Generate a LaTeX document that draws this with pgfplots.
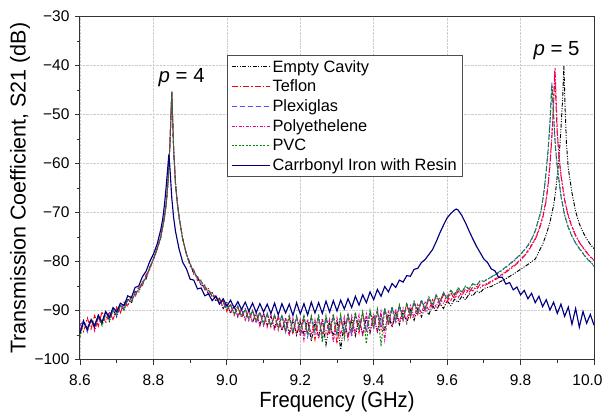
\documentclass[border=0pt]{standalone}
\usepackage{fontspec}
\setmainfont{Liberation Sans}
\usepackage{graphicx}
\usepackage{pgfplots}
\pgfplotsset{compat=1.18}
\definecolor{plexblue}{RGB}{80,80,255}
\definecolor{pvcgreen}{RGB}{0,140,0}
\definecolor{ironnavy}{RGB}{0,0,128}
\definecolor{gridgray}{RGB}{205,205,205}

\begin{document}
\begin{tikzpicture}
\useasboundingbox (-80pt,-53.5pt) rectangle (523pt,359.5pt);
\begin{axis}[
  name=ax, at={(0pt,0pt)}, anchor=south west,
  width=514pt, height=343pt, scale only axis,
  xmin=8.6, xmax=10.0, ymin=-100, ymax=-30,
  xtick={8.6,8.8,9.0,9.2,9.4,9.6,9.8,10.0},
  xticklabels={8.6,8.8,9.0,9.2,9.4,9.6,9.8,\hspace*{-13pt}10.0},
  ytick={-100,-90,-80,-70,-60,-50,-40,-30},
  yticklabels={−100,−90,−80,−70,−60,−50,−40,−30},
  minor x tick num=1, minor y tick num=1,
  xticklabel style={yshift=-7pt},
  tick label style={font=\fontsize{15.5}{18}\selectfont},
  yticklabel style={xshift=-2pt},
  tick align=outside, tick pos=left,
  major tick length=5pt, minor tick length=3pt,
  xmajorgrids, ymajorgrids,
  grid style={densely dotted, gridgray, line width=0.7pt},
  axis line style={line width=1pt, black!80},
  every tick/.style={black!80, line width=0.8pt},
  clip=true,
  legend style={at={(rel axis cs:0.286,0.887)}, anchor=north west,
    font=\fontsize{16.4}{19.6}\selectfont, draw=black!70, line width=0.8pt,
    fill=white, row sep=2.4pt, inner xsep=4pt, inner ysep=2.5pt},
  legend cell align=left,
  legend image code/.code={\draw[#1] (0pt,0pt) -- (38pt,0pt);},
]
% Empty Cavity
\addplot[color=black, draw=black, line width=0.95pt, dash pattern=on 4pt off 1.5pt on 1pt off 1.5pt on 1pt off 1.5pt] coordinates {
(8.60,-94.8) (8.61,-92.0) (8.62,-94.1) (8.63,-91.9) (8.64,-93.6) (8.65,-91.2) (8.66,-92.9) (8.67,-90.3)
(8.68,-92.2) (8.69,-89.8) (8.70,-91.3) (8.71,-88.9) (8.72,-89.9) (8.73,-87.6) (8.74,-88.5) (8.75,-86.1)
(8.76,-86.3) (8.77,-84.0) (8.78,-83.6) (8.79,-81.1) (8.80,-79.6) (8.81,-77.4) (8.82,-75.1) (8.83,-71.0)
(8.835,-68.1) (8.84,-63.5) (8.845,-56.2) (8.85,-45.6) (8.855,-57.0) (8.86,-64.1) (8.865,-68.0) (8.87,-71.1)
(8.88,-75.4) (8.89,-78.6) (8.90,-80.4) (8.91,-82.6) (8.92,-83.0) (8.93,-85.0) (8.94,-84.8) (8.95,-86.7)
(8.96,-86.2) (8.97,-88.1) (8.98,-87.5) (8.99,-89.6) (9.00,-88.4) (9.01,-90.6) (9.02,-89.0) (9.03,-91.3)
(9.04,-89.6) (9.05,-91.8) (9.06,-90.0) (9.07,-92.4) (9.08,-90.5) (9.09,-92.9) (9.10,-90.7) (9.11,-93.0)
(9.12,-91.2) (9.13,-93.5) (9.14,-91.3) (9.15,-94.1) (9.16,-91.9) (9.17,-94.6) (9.18,-92.0) (9.19,-95.0)
(9.20,-92.3) (9.21,-94.8) (9.22,-91.9) (9.23,-96.2) (9.24,-92.4) (9.25,-95.3) (9.26,-91.8) (9.27,-97.0)
(9.28,-92.6) (9.29,-95.1) (9.30,-92.0) (9.31,-98.0) (9.32,-92.3) (9.33,-95.4) (9.34,-91.9) (9.35,-95.2)
(9.36,-92.0) (9.37,-94.8) (9.38,-91.5) (9.39,-94.6) (9.40,-91.3) (9.41,-94.3) (9.42,-91.0) (9.43,-93.9)
(9.44,-90.9) (9.45,-93.4) (9.46,-90.6) (9.47,-92.9) (9.48,-90.1) (9.49,-92.6) (9.50,-89.9) (9.51,-92.0)
(9.52,-89.6) (9.53,-91.3) (9.54,-89.3) (9.55,-90.9) (9.56,-88.9) (9.57,-90.2) (9.58,-88.5) (9.59,-89.6)
(9.60,-88.0) (9.61,-89.0) (9.62,-87.7) (9.63,-88.3) (9.64,-87.1) (9.65,-87.8) (9.66,-86.6) (9.67,-87.0)
(9.68,-86.0) (9.69,-86.4) (9.70,-85.5) (9.72,-85.1) (9.74,-84.3) (9.76,-83.5) (9.78,-82.6) (9.80,-81.6)
(9.82,-80.6) (9.84,-79.5) (9.86,-76.5) (9.87,-74.5) (9.88,-72.0) (9.89,-68.5) (9.895,-66.0) (9.90,-62.5)
(9.905,-58.5) (9.91,-53.0) (9.915,-46.0) (9.918,-40.0) (9.921,-48.0) (9.925,-56.0) (9.93,-61.0) (9.94,-66.0)
(9.95,-69.8) (9.96,-72.3) (9.97,-74.0) (9.98,-75.4) (9.99,-76.5) (10.00,-77.4)
};
% Teflon
\addplot[color=red, draw=red, line width=0.95pt, dash pattern=on 6pt off 2pt on 1.5pt off 2pt] coordinates {
(8.60,-92.6) (8.61,-94.3) (8.62,-91.5) (8.63,-93.8) (8.64,-91.0) (8.65,-93.2) (8.66,-90.2) (8.67,-92.6)
(8.68,-90.4) (8.69,-91.8) (8.70,-89.3) (8.71,-90.5) (8.72,-88.3) (8.73,-89.2) (8.74,-86.9) (8.75,-87.3)
(8.76,-85.1) (8.77,-84.9) (8.78,-82.7) (8.79,-81.6) (8.80,-79.4) (8.81,-77.6) (8.82,-74.9) (8.83,-71.1)
(8.835,-67.9) (8.84,-63.6) (8.845,-55.9) (8.85,-45.4) (8.855,-57.1) (8.86,-63.9) (8.865,-68.1) (8.87,-70.9)
(8.88,-75.6) (8.89,-78.4) (8.90,-81.0) (8.91,-81.7) (8.92,-83.9) (8.93,-83.8) (8.94,-85.8) (8.95,-85.5)
(8.96,-87.3) (8.97,-86.9) (8.98,-88.7) (8.99,-88.0) (9.00,-90.2) (9.01,-88.6) (9.02,-91.0) (9.03,-89.2)
(9.04,-91.5) (9.05,-89.7) (9.06,-92.1) (9.07,-90.0) (9.08,-92.6) (9.09,-90.3) (9.10,-93.1) (9.11,-90.7)
(9.12,-93.4) (9.13,-91.0) (9.14,-94.0) (9.15,-91.1) (9.16,-94.5) (9.17,-91.3) (9.18,-94.9) (9.19,-91.2)
(9.20,-95.3) (9.21,-91.6) (9.22,-94.6) (9.23,-91.4) (9.24,-96.0) (9.25,-91.7) (9.26,-95.0) (9.27,-91.5)
(9.28,-94.9) (9.29,-91.2) (9.30,-96.8) (9.31,-91.6) (9.32,-94.7) (9.33,-91.0) (9.34,-95.3) (9.35,-90.9)
(9.36,-94.6) (9.37,-90.6) (9.38,-94.4) (9.39,-90.5) (9.40,-93.8) (9.41,-90.3) (9.42,-93.9) (9.43,-89.9)
(9.44,-93.1) (9.45,-89.7) (9.46,-92.6) (9.47,-89.2) (9.48,-92.1) (9.49,-88.8) (9.50,-91.4) (9.51,-88.5)
(9.52,-90.8) (9.53,-88.0) (9.54,-90.1) (9.55,-87.6) (9.56,-89.4) (9.57,-87.0) (9.58,-88.9) (9.59,-86.7)
(9.60,-88.3) (9.61,-86.4) (9.62,-87.6) (9.63,-86.0) (9.64,-87.0) (9.65,-85.6) (9.66,-86.3) (9.67,-85.2)
(9.68,-85.7) (9.69,-84.6) (9.70,-85.0) (9.72,-84.2) (9.74,-83.3) (9.76,-82.2) (9.78,-81.1) (9.80,-79.8)
(9.82,-78.0) (9.84,-75.5) (9.85,-73.7) (9.86,-71.2) (9.865,-69.5) (9.87,-67.5) (9.875,-64.5) (9.88,-60.5)
(9.885,-55.0) (9.89,-48.0) (9.893,-41.0) (9.897,-49.0) (9.90,-54.0) (9.905,-59.0) (9.91,-62.5) (9.92,-67.5)
(9.93,-70.8) (9.94,-73.0) (9.95,-74.8) (9.96,-76.1) (9.97,-77.2) (9.98,-78.2) (9.99,-79.1) (10.00,-79.8)
};
% Plexiglas
\addplot[color=plexblue, draw=plexblue, line width=0.95pt, dash pattern=on 5pt off 3pt] coordinates {
(8.60,-93.0) (8.61,-92.1) (8.62,-94.4) (8.63,-91.6) (8.64,-93.0) (8.65,-90.9) (8.66,-92.7) (8.67,-90.8)
(8.68,-91.6) (8.69,-89.9) (8.70,-91.0) (8.71,-88.8) (8.72,-89.6) (8.73,-87.9) (8.74,-88.1) (8.75,-86.3)
(8.76,-86.0) (8.77,-84.2) (8.78,-83.4) (8.79,-81.2) (8.80,-79.5) (8.81,-77.5) (8.82,-75.0) (8.83,-70.9)
(8.835,-68.0) (8.84,-63.4) (8.845,-56.1) (8.85,-45.7) (8.855,-56.9) (8.86,-64.0) (8.865,-67.9) (8.87,-71.0)
(8.88,-75.5) (8.89,-78.5) (8.90,-80.9) (8.91,-81.8) (8.92,-83.6) (8.93,-84.0) (8.94,-85.6) (8.95,-85.7)
(8.96,-87.1) (8.97,-87.0) (8.98,-88.4) (8.99,-88.2) (9.00,-89.9) (9.01,-88.7) (9.02,-90.8) (9.03,-89.0)
(9.04,-91.3) (9.05,-89.5) (9.06,-91.9) (9.07,-89.9) (9.08,-92.3) (9.09,-90.2) (9.10,-92.9) (9.11,-90.5)
(9.12,-93.3) (9.13,-90.9) (9.14,-93.6) (9.15,-90.8) (9.16,-94.4) (9.17,-91.0) (9.18,-94.2) (9.19,-91.3)
(9.20,-94.7) (9.21,-91.1) (9.22,-95.4) (9.23,-91.5) (9.24,-94.6) (9.25,-91.2) (9.26,-95.6) (9.27,-91.4)
(9.28,-94.4) (9.29,-91.0) (9.30,-95.0) (9.31,-91.3) (9.32,-94.5) (9.33,-90.8) (9.34,-94.8) (9.35,-90.7)
(9.36,-94.0) (9.37,-90.5) (9.38,-93.9) (9.39,-90.1) (9.40,-93.5) (9.41,-89.8) (9.42,-93.2) (9.43,-89.6)
(9.44,-92.7) (9.45,-89.4) (9.46,-92.3) (9.47,-89.0) (9.48,-91.7) (9.49,-88.6) (9.50,-91.1) (9.51,-88.2)
(9.52,-90.4) (9.53,-87.9) (9.54,-89.9) (9.55,-87.3) (9.56,-89.1) (9.57,-86.8) (9.58,-88.5) (9.59,-86.3)
(9.60,-87.7) (9.61,-85.9) (9.62,-87.0) (9.63,-85.4) (9.64,-86.4) (9.65,-85.0) (9.66,-85.7) (9.67,-84.5)
(9.68,-85.0) (9.69,-83.9) (9.70,-84.1) (9.74,-82.2) (9.76,-81.1) (9.78,-79.9) (9.80,-78.5) (9.82,-76.7)
(9.83,-75.4) (9.84,-73.7) (9.85,-71.1) (9.855,-69.9) (9.86,-67.7) (9.865,-64.9) (9.87,-61.3) (9.875,-57.2)
(9.88,-51.5) (9.885,-43.5) (9.89,-50.5) (9.895,-56.8) (9.90,-60.8) (9.91,-66.7) (9.92,-70.6) (9.93,-73.1)
(9.94,-74.9) (9.95,-76.3) (9.96,-77.4) (9.97,-78.4) (9.98,-79.4) (9.99,-80.1) (10.00,-81.0)
};
% Polyethelene
\addplot[color=magenta, draw=magenta, line width=0.95pt, dash pattern=on 3pt off 1.5pt on 1pt off 1.5pt] coordinates {
(8.60,-94.0) (8.61,-92.4) (8.62,-93.6) (8.63,-91.8) (8.64,-94.2) (8.65,-91.5) (8.66,-92.0) (8.67,-91.7)
(8.68,-90.3) (8.69,-91.9) (8.70,-89.5) (8.71,-90.2) (8.72,-88.6) (8.73,-88.9) (8.74,-87.3) (8.75,-87.0)
(8.76,-85.4) (8.77,-84.7) (8.78,-82.9) (8.79,-81.5) (8.80,-79.5) (8.81,-77.5) (8.82,-75.0) (8.83,-71.0)
(8.835,-68.0) (8.84,-63.5) (8.845,-56.0) (8.85,-45.3) (8.855,-57.0) (8.86,-64.0) (8.865,-68.0) (8.87,-71.0)
(8.88,-75.5) (8.89,-78.5) (8.90,-80.3) (8.91,-82.4) (8.92,-83.1) (8.93,-84.8) (8.94,-85.0) (8.95,-86.5)
(8.96,-86.4) (8.97,-88.0) (8.98,-87.7) (8.99,-89.4) (9.00,-88.6) (9.01,-90.5) (9.02,-89.2) (9.03,-91.1)
(9.04,-89.8) (9.05,-92.0) (9.06,-89.9) (9.07,-92.5) (9.08,-90.4) (9.09,-93.2) (9.10,-90.5) (9.11,-93.4)
(9.12,-90.8) (9.13,-94.2) (9.14,-91.0) (9.15,-94.0) (9.16,-91.4) (9.17,-95.2) (9.18,-91.6) (9.19,-94.6)
(9.20,-91.8) (9.21,-96.1) (9.22,-91.7) (9.23,-95.0) (9.24,-91.9) (9.25,-95.8) (9.26,-91.6) (9.27,-94.8)
(9.28,-91.8) (9.29,-96.4) (9.30,-91.5) (9.31,-95.1) (9.32,-91.3) (9.33,-95.9) (9.34,-91.1) (9.35,-94.7)
(9.36,-90.9) (9.37,-95.3) (9.38,-90.7) (9.39,-94.2) (9.40,-90.6) (9.41,-94.5) (9.42,-90.2) (9.43,-96.0)
(9.44,-90.0) (9.45,-93.1) (9.46,-89.7) (9.47,-92.4) (9.48,-89.5) (9.49,-92.0) (9.50,-89.0) (9.51,-91.3)
(9.52,-88.8) (9.53,-90.6) (9.54,-88.3) (9.55,-90.0) (9.56,-87.8) (9.57,-89.3) (9.58,-87.4) (9.59,-88.6)
(9.60,-86.9) (9.61,-88.0) (9.62,-86.5) (9.63,-87.4) (9.64,-86.1) (9.65,-86.7) (9.66,-85.6) (9.67,-86.0)
(9.68,-85.1) (9.69,-85.4) (9.70,-84.8) (9.72,-84.0) (9.74,-83.1) (9.76,-82.0) (9.78,-80.9) (9.80,-79.6)
(9.82,-77.8) (9.84,-75.3) (9.85,-73.4) (9.86,-70.9) (9.865,-69.1) (9.87,-67.1) (9.875,-64.1) (9.88,-60.0)
(9.885,-54.4) (9.89,-47.3) (9.894,-40.5) (9.898,-48.8) (9.90,-53.5) (9.905,-58.6) (9.91,-62.2) (9.92,-67.3)
(9.93,-70.6) (9.94,-72.8) (9.95,-74.6) (9.96,-76.0) (9.97,-77.1) (9.98,-78.1) (9.99,-79.0) (10.00,-79.7)
};
% PVC
\addplot[color=pvcgreen, draw=pvcgreen, line width=0.95pt, dash pattern=on 2pt off 1.5pt] coordinates {
(8.60,-95.5) (8.61,-92.3) (8.62,-93.5) (8.63,-92.0) (8.64,-92.9) (8.65,-91.0) (8.66,-93.1) (8.67,-90.6)
(8.68,-91.9) (8.69,-90.1) (8.70,-90.8) (8.71,-89.1) (8.72,-89.8) (8.73,-87.7) (8.74,-88.3) (8.75,-86.4)
(8.76,-85.9) (8.77,-84.3) (8.78,-83.3) (8.79,-81.3) (8.80,-79.5) (8.81,-77.4) (8.82,-75.0) (8.83,-71.0)
(8.835,-68.0) (8.84,-63.5) (8.845,-56.0) (8.85,-45.5) (8.855,-57.0) (8.86,-64.0) (8.865,-68.0) (8.87,-71.0)
(8.88,-75.5) (8.89,-78.5) (8.90,-80.7) (8.91,-81.9) (8.92,-83.5) (8.93,-84.1) (8.94,-85.4) (8.95,-85.9)
(8.96,-87.0) (8.97,-87.2) (8.98,-88.3) (8.99,-88.4) (9.00,-89.7) (9.01,-88.9) (9.02,-90.6) (9.03,-89.4)
(9.04,-91.1) (9.05,-89.8) (9.06,-91.6) (9.07,-90.1) (9.08,-92.0) (9.09,-90.6) (9.10,-92.5) (9.11,-90.8)
(9.12,-93.0) (9.13,-91.0) (9.14,-93.4) (9.15,-91.2) (9.16,-93.9) (9.17,-91.0) (9.18,-94.5) (9.19,-91.2)
(9.20,-94.0) (9.21,-90.9) (9.22,-95.0) (9.23,-91.1) (9.24,-94.2) (9.25,-90.8) (9.26,-96.5) (9.27,-91.0)
(9.28,-94.1) (9.29,-90.7) (9.30,-94.9) (9.31,-90.8) (9.32,-95.7) (9.33,-90.6) (9.34,-94.0) (9.35,-90.4)
(9.36,-93.7) (9.37,-90.2) (9.38,-96.8) (9.39,-89.9) (9.40,-93.2) (9.41,-89.7) (9.42,-97.3) (9.43,-89.5)
(9.44,-92.4) (9.45,-89.2) (9.46,-92.0) (9.47,-88.8) (9.48,-91.5) (9.49,-88.5) (9.50,-90.9) (9.51,-88.1)
(9.52,-90.2) (9.53,-87.8) (9.54,-89.6) (9.55,-87.2) (9.56,-88.9) (9.57,-86.8) (9.58,-88.2) (9.59,-86.3)
(9.60,-87.6) (9.61,-85.8) (9.62,-86.9) (9.63,-85.4) (9.64,-86.2) (9.65,-85.0) (9.66,-85.6) (9.67,-84.5)
(9.68,-84.9) (9.69,-83.9) (9.70,-84.0) (9.72,-83.2) (9.74,-82.3) (9.76,-81.2) (9.78,-80.0) (9.80,-78.6)
(9.82,-76.8) (9.83,-75.5) (9.84,-73.8) (9.85,-71.2) (9.855,-70.0) (9.86,-67.8) (9.865,-65.0) (9.87,-61.5)
(9.875,-57.5) (9.88,-52.0) (9.886,-44.0) (9.89,-50.0) (9.895,-56.5) (9.90,-60.5) (9.91,-66.5) (9.92,-70.5)
(9.93,-73.0) (9.94,-74.8) (9.95,-76.2) (9.96,-77.3) (9.97,-78.3) (9.98,-79.3) (9.99,-80.0) (10.00,-80.9)
};
% Carrbonyl Iron with Resin
\addplot[color=ironnavy, draw=ironnavy, line width=1.15pt] coordinates {
(8.60,-94.5) (8.61,-92.3) (8.62,-93.9) (8.63,-91.9) (8.64,-93.1) (8.65,-91.0) (8.66,-92.4) (8.67,-90.2)
(8.68,-91.4) (8.69,-89.4) (8.70,-90.3) (8.71,-88.5) (8.72,-89.0) (8.73,-87.0) (8.74,-87.4) (8.75,-85.3)
(8.76,-85.0) (8.77,-83.1) (8.78,-82.0) (8.79,-80.0) (8.80,-78.5) (8.81,-76.5) (8.82,-73.5) (8.825,-71.5)
(8.83,-68.5) (8.835,-64.5) (8.84,-60.0) (8.842,-58.2) (8.845,-61.0) (8.85,-67.0) (8.855,-71.0) (8.86,-73.8)
(8.87,-77.5) (8.88,-80.2) (8.89,-81.5) (8.90,-83.6) (8.91,-83.8) (8.92,-85.6) (8.93,-85.4) (8.94,-87.0)
(8.95,-86.6) (8.96,-88.0) (8.97,-87.1) (8.98,-88.7) (8.99,-87.6) (9.00,-89.1) (9.01,-87.9) (9.02,-89.5)
(9.03,-88.2) (9.04,-89.8) (9.05,-88.3) (9.06,-90.1) (9.07,-88.5) (9.08,-90.4) (9.09,-88.6) (9.10,-90.3)
(9.11,-88.7) (9.12,-90.6) (9.13,-88.5) (9.14,-90.9) (9.15,-88.6) (9.16,-90.5) (9.17,-88.7) (9.18,-91.0)
(9.19,-88.4) (9.20,-90.7) (9.21,-88.6) (9.22,-90.9) (9.23,-88.3) (9.24,-90.5) (9.25,-88.4) (9.26,-90.6)
(9.27,-88.1) (9.28,-90.3) (9.29,-88.0) (9.30,-90.1) (9.31,-87.9) (9.32,-89.7) (9.33,-87.6) (9.34,-89.4)
(9.35,-87.1) (9.36,-88.9) (9.37,-86.8) (9.38,-88.4) (9.39,-86.2) (9.40,-87.8) (9.41,-85.7) (9.42,-87.1)
(9.43,-85.1) (9.44,-86.2) (9.45,-84.5) (9.46,-85.3) (9.47,-83.8) (9.48,-84.2) (9.49,-82.9) (9.50,-83.0)
(9.51,-81.6) (9.52,-81.4) (9.53,-80.2) (9.54,-79.6) (9.55,-78.6) (9.56,-77.6) (9.57,-76.0) (9.58,-74.2)
(9.59,-72.6) (9.60,-71.1) (9.61,-70.2) (9.62,-69.5) (9.625,-69.3) (9.63,-69.5) (9.64,-70.6) (9.65,-72.1)
(9.66,-73.8) (9.67,-75.4) (9.68,-76.9) (9.69,-78.2) (9.70,-79.5) (9.71,-80.2) (9.72,-81.5) (9.73,-81.9)
(9.74,-83.2) (9.75,-83.2) (9.76,-84.6) (9.77,-84.3) (9.78,-85.8) (9.79,-85.2) (9.80,-86.8) (9.81,-85.9)
(9.82,-87.6) (9.83,-86.5) (9.84,-88.4) (9.85,-87.1) (9.86,-89.2) (9.87,-87.8) (9.88,-89.9) (9.89,-88.3)
(9.90,-90.6) (9.91,-88.7) (9.92,-91.2) (9.93,-89.3) (9.94,-92.8) (9.95,-89.6) (9.96,-93.4) (9.97,-90.2)
(9.98,-92.6) (9.99,-90.8) (10.00,-93.0)
};
\legend{Empty Cavity, Teflon, Plexiglas, Polyethelene, PVC, Carrbonyl Iron with Resin}
\node[font=\fontsize{20.4}{23}\selectfont] at (axis cs:8.877,-42.4) {\textit{p} = 4};
\node[font=\fontsize{20.4}{23}\selectfont] at (axis cs:9.898,-37.0) {\textit{p} = 5};
\end{axis}
\node[rotate=90, font=\fontsize{21.5}{24}\selectfont] at ([xshift=-60pt]ax.west) {Transmission Coefficient, S21 (dB)};
\node[font=\fontsize{22}{25}\selectfont, inner sep=0pt] at ([yshift=-42pt]ax.south) {\scalebox{0.92}[1]{Frequency (GHz)}};
\end{tikzpicture}
\end{document}
